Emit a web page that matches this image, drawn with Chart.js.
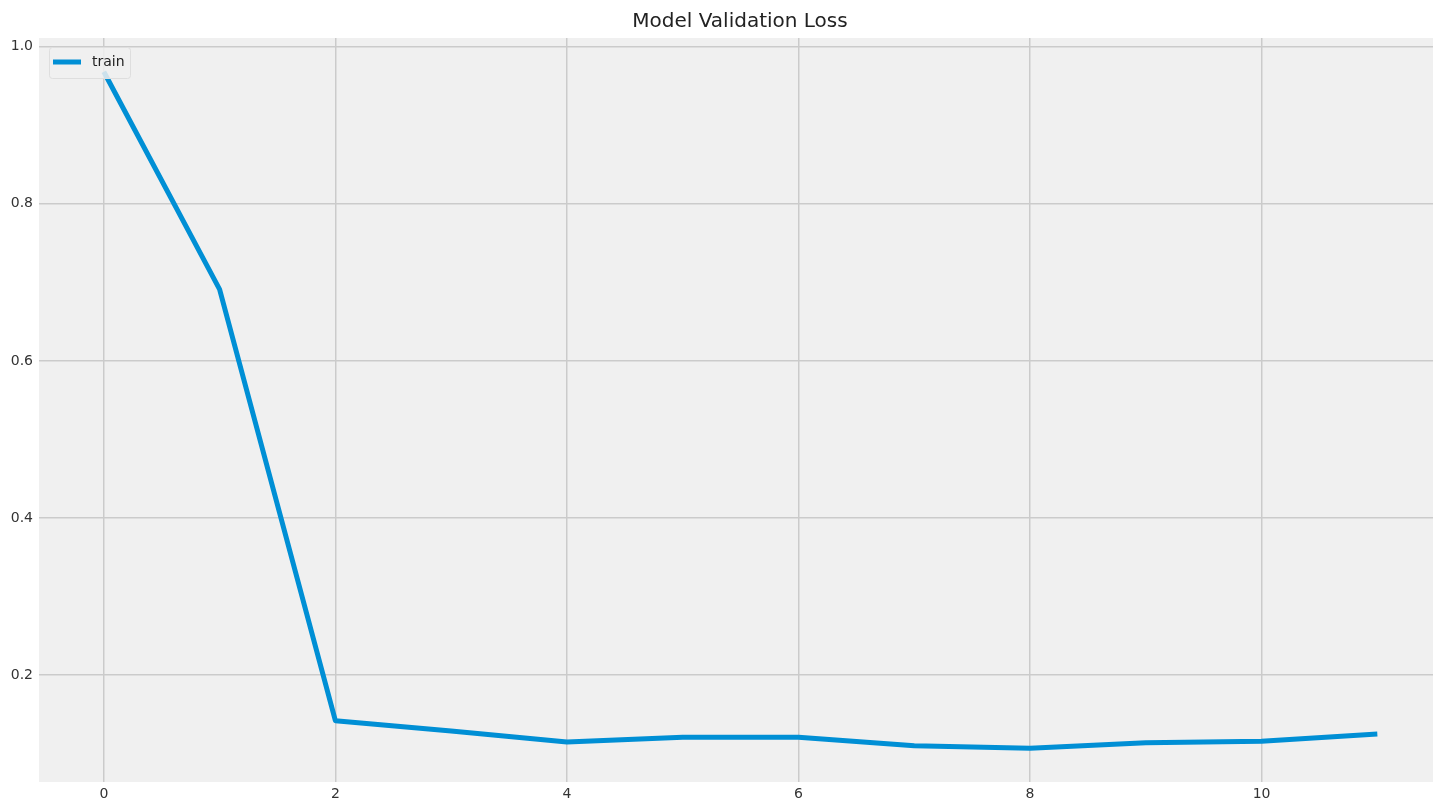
<!DOCTYPE html>
<html>
<head>
<meta charset="utf-8">
<script src="https://cdn.jsdelivr.net/npm/chart.js@4/dist/chart.umd.min.js"></script>
<style>
    html, body { margin: 0; padding: 0; overflow: hidden; background: #ffffff; }
    #chartDiv { width: 1441px; height: 801px; }
</style>
</head>
<body>
<div id="chartDiv"><canvas id="chart"></canvas></div>
<script>
const epochs = [0, 1, 2, 3, 4, 5, 6, 7, 8, 9, 10, 11];
const valLoss = [0.968, 0.691, 0.142, 0.129, 0.115, 0.121, 0.121, 0.110, 0.107, 0.114, 0.116, 0.125];
const xTicks = [0, 2, 4, 6, 8, 10];
const yTicks = [0.2, 0.4, 0.6, 0.8, 1.0];

const plotBg = {
    id: 'plotBg',
    beforeDraw(chart) {
        const a = chart.chartArea;
        const ctx = chart.ctx;
        ctx.save();
        ctx.fillStyle = '#f0f0f0';
        ctx.fillRect(a.left, a.top, a.right - a.left, a.bottom - a.top);
        ctx.restore();
    }
};

// matplotlib style legend, upper left inside the axes and above the line
const legendInside = {
    id: 'legendInside',
    afterDatasetsDraw(chart) {
        const a = chart.chartArea;
        const ds = chart.data.datasets[0];
        const ctx = chart.ctx;
        const x = a.left + 10, y = a.top + 9;
        ctx.save();
        ctx.fillStyle = 'rgba(240,240,240,0.85)';
        ctx.strokeStyle = '#dedede';
        ctx.lineWidth = 1;
        ctx.beginPath();
        ctx.roundRect(x + 0.5, y + 0.5, 81, 31, 3);
        ctx.fill();
        ctx.stroke();
        ctx.strokeStyle = ds.borderColor;
        ctx.lineWidth = 5;
        ctx.beginPath();
        ctx.moveTo(x + 4, y + 15);
        ctx.lineTo(x + 32, y + 15);
        ctx.stroke();
        ctx.fillStyle = '#222222';
        ctx.font = '14px "DejaVu Sans"';
        ctx.textBaseline = 'middle';
        ctx.fillText(ds.label, x + 43, y + 15);
        ctx.restore();
    }
};

const ctx = document.getElementById('chart').getContext('2d');
new Chart(ctx, {
    type: 'line',
    data: {
        datasets: [{
            label: 'train',
            data: epochs.map((e, i) => ({ x: e, y: valLoss[i] })),
            borderColor: '#008fd5',
            backgroundColor: '#008fd5',
            borderWidth: 5,
            pointRadius: 0,
            tension: 0,
            borderJoinStyle: 'round',
            borderCapStyle: 'butt'
        }]
    },
    options: {
        responsive: true,
        maintainAspectRatio: false,
        animation: false,
        layout: { padding: 0 },
        plugins: {
            title: {
                display: true,
                text: 'Model Validation Loss',
                fullSize: false,
                color: '#222222',
                font: { family: 'DejaVu Sans', size: 20, weight: 'normal', lineHeight: 1.2 },
                padding: { top: 10, bottom: 4 }
            },
            legend: { display: false },
            tooltip: { enabled: false }
        },
        scales: {
            x: {
                type: 'linear',
                min: -0.56,
                max: 11.55,
                border: { display: false },
                grid: { color: '#cbcbcb', lineWidth: 1.5, drawTicks: false },
                afterBuildTicks: (scale) => { scale.ticks = xTicks.map(v => ({ value: v })); },
                afterFit: (scale) => { scale.height = 19; },
                ticks: {
                    padding: 4,
                    color: '#333333',
                    font: { family: 'DejaVu Sans', size: 14 },
                    maxRotation: 0,
                    callback: (v) => String(v)
                }
            },
            y: {
                min: 0.064,
                max: 1.011,
                border: { display: false },
                grid: { color: '#cbcbcb', lineWidth: 1.5, drawTicks: false },
                afterBuildTicks: (scale) => { scale.ticks = yTicks.map(v => ({ value: v })); },
                afterFit: (scale) => { scale.width = 39; },
                ticks: {
                    padding: 6,
                    color: '#333333',
                    font: { family: 'DejaVu Sans', size: 14 },
                    callback: (v) => v.toFixed(1)
                }
            }
        }
    },
    plugins: [plotBg, legendInside]
});
</script>
</body>
</html>
